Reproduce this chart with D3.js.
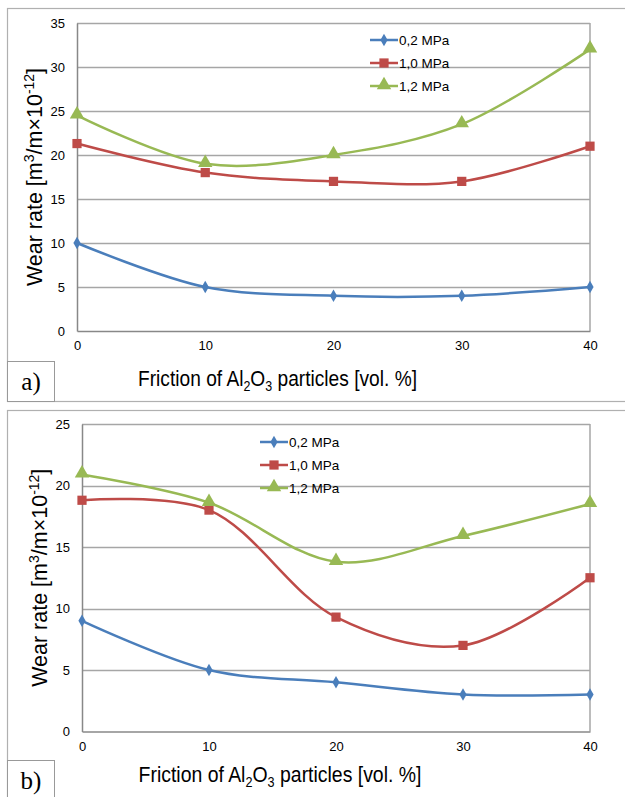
<!DOCTYPE html>
<html>
<head>
<meta charset="utf-8">
<script src="https://cdn.jsdelivr.net/npm/d3@7"></script>
<style>
  body { margin: 0; background: #fff; }
  svg { display: block; font-family: "Liberation Sans", Arial, sans-serif; }
</style>
</head>
<body>
<svg width="625" height="797"></svg>
<script>
// Data
const fractions = [0, 10, 20, 30, 40];
const seriesNames = ["0,2 MPa", "1,0 MPa", "1,2 MPa"];

// panel a)
const wearA_02 = [10, 5, 4, 4, 5];
const wearA_10 = [21.3, 18, 17, 17, 21];
const wearA_12 = [24.5, 19, 20, 23.5, 32];
const yTicksA = [0, 5, 10, 15, 20, 25, 30, 35];

// panel b)
const wearB_02 = [9, 5, 4, 3, 3];
const wearB_10 = [18.8, 18, 9.3, 7, 12.5];
const wearB_12 = [20.9, 18.6, 13.8, 15.9, 18.5];
const yTicksB = [0, 5, 10, 15, 20, 25];

const xTicks = [0, 10, 20, 30, 40];

const colors = ["#4a7ebb", "#be4b48", "#98b954"];
const markers = [d3.symbolDiamond, d3.symbolSquare, d3.symbolTriangle];
const markerSize = [45, 85, 90];

const svg = d3.select("svg");

function drawPanel(cfg) {
  const g = svg.append("g");

  // outer chart frame
  g.append("rect")
    .attr("x", cfg.frame[0] + 0.5).attr("y", cfg.frame[1] + 0.5)
    .attr("width", cfg.frame[2]).attr("height", cfg.frame[3])
    .attr("fill", "none").attr("stroke", "#b0b0b0").attr("stroke-width", 1.2);

  const x = d3.scaleLinear().domain([0, 40]).range([cfg.left, cfg.right]);
  const y = d3.scaleLinear().domain([0, cfg.yMax]).range([cfg.bottom, cfg.top]);

  // grid lines
  g.append("g").selectAll("line")
    .data(cfg.yTicks.filter(d => d > 0))
    .enter().append("line")
    .attr("x1", cfg.left).attr("x2", cfg.right)
    .attr("y1", d => Math.round(y(d)) + 0.5).attr("y2", d => Math.round(y(d)) + 0.5)
    .attr("stroke", "#a6a6a6").attr("stroke-width", 1.3);

  // right border of the plot area
  g.append("line")
    .attr("x1", cfg.right).attr("x2", cfg.right)
    .attr("y1", cfg.top).attr("y2", cfg.bottom)
    .attr("stroke", "#a6a6a6").attr("stroke-width", 1.5);

  // axes
  const yAxis = g.append("g")
    .attr("transform", `translate(${cfg.left},0)`)
    .call(d3.axisLeft(y).tickValues(cfg.yTicks).tickSize(0).tickPadding(12));
  const xAxis = g.append("g")
    .attr("transform", `translate(0,${cfg.bottom})`)
    .call(d3.axisBottom(x).tickValues(xTicks).tickSize(0).tickPadding(10));
  [xAxis, yAxis].forEach(a => {
    a.select(".domain").attr("stroke", "#888").attr("stroke-width", 1.5);
    a.selectAll("text").attr("font-size", 13).attr("fill", "#000")
      .attr("font-family", "Liberation Sans, Arial, sans-serif");
  });

  // series
  const line = d3.line()
    .x((d, i) => x(fractions[i]))
    .y(d => y(d))
    .curve(d3.curveCatmullRom.alpha(0.5));

  cfg.series.forEach((vals, k) => {
    g.append("path")
      .datum(vals)
      .attr("d", line)
      .attr("fill", "none")
      .attr("stroke", colors[k])
      .attr("stroke-width", 2.5);
  });
  cfg.series.forEach((vals, k) => {
    g.append("g").selectAll("path")
      .data(vals)
      .enter().append("path")
      .attr("d", d3.symbol().type(markers[k]).size(markerSize[k]))
      .attr("transform", (d, i) => `translate(${x(fractions[i])},${y(d) + (k === 2 ? -1 : 0)})`)
      .attr("fill", colors[k]);
  });

  // legend
  const leg = g.append("g").attr("transform", `translate(${cfg.legend[0]},${cfg.legend[1]})`);
  seriesNames.forEach((name, k) => {
    const row = leg.append("g").attr("transform", `translate(0,${k * 23})`);
    row.append("line").attr("x1", 0).attr("x2", 28).attr("stroke", colors[k]).attr("stroke-width", 2.5);
    row.append("path")
      .attr("d", d3.symbol().type(markers[k]).size(markerSize[k]))
      .attr("transform", `translate(14,${k === 2 ? -1 : 0})`)
      .attr("fill", colors[k]);
    row.append("text").attr("x", 29).attr("dy", "0.36em")
      .attr("font-size", 13.5)
      .text(name);
  });

  // y axis title
  const yt = g.append("text")
    .attr("transform", `translate(${cfg.yTitleX},${(cfg.top + cfg.bottom) / 2}) rotate(-90)`)
    .attr("text-anchor", "middle")
    .attr("font-size", 21.5);
  yt.append("tspan").text("Wear rate [m");
  yt.append("tspan").attr("font-size", 14).attr("dy", -8).text("3");
  yt.append("tspan").attr("dy", 8).text("/m\u00d710");
  yt.append("tspan").attr("font-size", 14).attr("dy", -8).text("-12");
  yt.append("tspan").attr("dy", 8).text("]");

  // x axis title, squeezed horizontally like the original picture
  const xg = g.append("g");
  const xt = xg.append("text")
    .attr("text-anchor", "middle")
    .attr("font-size", 21.5);
  xt.append("tspan").text("Friction of Al");
  xt.append("tspan").attr("font-size", 14).attr("dy", 5).text("2");
  xt.append("tspan").attr("dy", -5).text("O");
  xt.append("tspan").attr("font-size", 14).attr("dy", 5).text("3");
  xt.append("tspan").attr("dy", -5).text(" particles [vol. %]");
  const sx = cfg.xTitle[2] / xt.node().getComputedTextLength();
  xg.attr("transform", `translate(${cfg.xTitle[0]},${cfg.xTitle[1]}) scale(${sx},1)`);

  // panel label box
  g.append("rect")
    .attr("x", cfg.labelBox[0] + 0.5).attr("y", cfg.labelBox[1] + 0.5)
    .attr("width", 47).attr("height", cfg.labelBox[2])
    .attr("fill", "#fff").attr("stroke", "#999").attr("stroke-width", 1);
  g.append("text")
    .attr("x", cfg.labelBox[0] + 24).attr("y", cfg.labelBox[1] + 29)
    .attr("text-anchor", "middle")
    .attr("font-family", "Liberation Serif, Times New Roman, serif")
    .attr("font-size", 25)
    .text(cfg.label);
}

drawPanel({
  frame: [7, 8, 640, 393],
  left: 77, right: 590, top: 23, bottom: 331,
  yMax: 35, yTicks: yTicksA,
  series: [wearA_02, wearA_10, wearA_12],
  legend: [370, 40],
  yTitleX: 42,
  xTitle: [277.5, 386, 279],
  labelBox: [7, 361, 40],
  label: "a)"
});

drawPanel({
  frame: [7, 410, 640, 400],
  left: 82, right: 590, top: 424, bottom: 731.5,
  yMax: 25, yTicks: yTicksB,
  series: [wearB_02, wearB_10, wearB_12],
  legend: [260, 442],
  yTitleX: 47,
  xTitle: [280, 782, 283],
  labelBox: [7, 760, 50],
  label: "b)"
});
</script>
</body>
</html>
